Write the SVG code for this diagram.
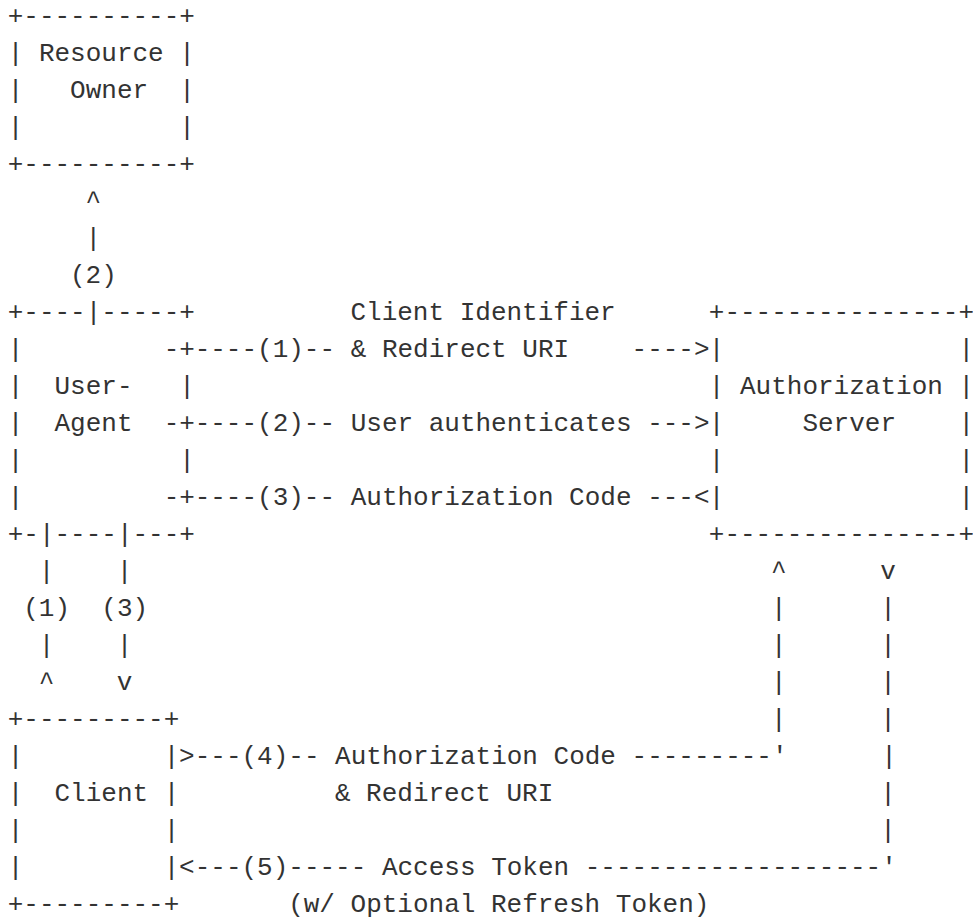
<svg xmlns="http://www.w3.org/2000/svg" width="973" height="918" viewBox="0 0 973 918" xml:space="preserve">
<style>
text { font-family: "Liberation Mono", "DejaVu Sans Mono", monospace; font-size: 26px; fill: #333333; white-space: pre; }
</style>
<rect x="0" y="0" width="973" height="918" fill="#ffffff"/>
<g id="resource-owner">
<text x="7.7" y="23.7">+----------+</text>
<text x="7.7" y="60.7">| Resource |</text>
<text x="7.7" y="97.7">|   Owner  |</text>
<text x="7.7" y="134.7">|          |</text>
<text x="7.7" y="171.7">+----------+</text>
</g>
<g id="user-agent">
<text x="7.7" y="319.7">+----|-----+</text>
<text x="7.7" y="356.7">|         -+</text>
<text x="7.7" y="393.7">|  User-   |</text>
<text x="7.7" y="430.7">|  Agent  -+</text>
<text x="7.7" y="467.7">|          |</text>
<text x="7.7" y="504.7">|         -+</text>
<text x="7.7" y="541.7">+-|----|---+</text>
</g>
<g id="authorization-server">
<text x="708.8" y="319.7">+---------------+</text>
<text x="708.8" y="356.7">|               |</text>
<text x="708.8" y="393.7">| Authorization |</text>
<text x="708.8" y="430.7">|     Server    |</text>
<text x="708.8" y="467.7">|               |</text>
<text x="708.8" y="504.7">|               |</text>
<text x="708.8" y="541.7">+---------------+</text>
</g>
<g id="client">
<text x="7.7" y="726.7">+---------+</text>
<text x="7.7" y="763.7">|         |</text>
<text x="7.7" y="800.7">|  Client |</text>
<text x="7.7" y="837.7">|         |</text>
<text x="7.7" y="874.7">|         |</text>
<text x="7.7" y="911.5">+---------+</text>
</g>
<g id="connectors">
<text x="85.6" y="208.7">^</text>
<text x="85.6" y="245.7">|</text>
<text x="70.02" y="282.7">(2)</text>
<text x="350.46" y="319.7">Client Identifier</text>
<text x="194.66" y="356.7">----(1)-- &amp; Redirect URI    ----&gt;</text>
<text x="194.66" y="430.7">----(2)-- User authenticates ---&gt;</text>
<text x="194.66" y="504.7">----(3)-- Authorization Code ---&lt;</text>
<text x="38.86" y="578.7">|    |</text>
<text x="23.28" y="615.7">(1)  (3)</text>
<text x="38.86" y="652.7">|    |</text>
<text x="38.86" y="689.7">^    v</text>
<text x="771.12" y="578.7">^      v</text>
<text x="771.12" y="615.7">|      |</text>
<text x="771.12" y="652.7">|      |</text>
<text x="771.12" y="689.7">|      |</text>
<text x="771.12" y="726.7">|      |</text>
<text x="179.08" y="763.7">&gt;---(4)-- Authorization Code ---------'      |</text>
<text x="334.88" y="800.7">&amp; Redirect URI</text>
<text x="880.18" y="800.7">|</text>
<text x="880.18" y="837.7">|</text>
<text x="179.08" y="874.7">&lt;---(5)----- Access Token -------------------'</text>
<text x="288.14" y="911.5">(w/ Optional Refresh Token)</text>
</g>
</svg>
